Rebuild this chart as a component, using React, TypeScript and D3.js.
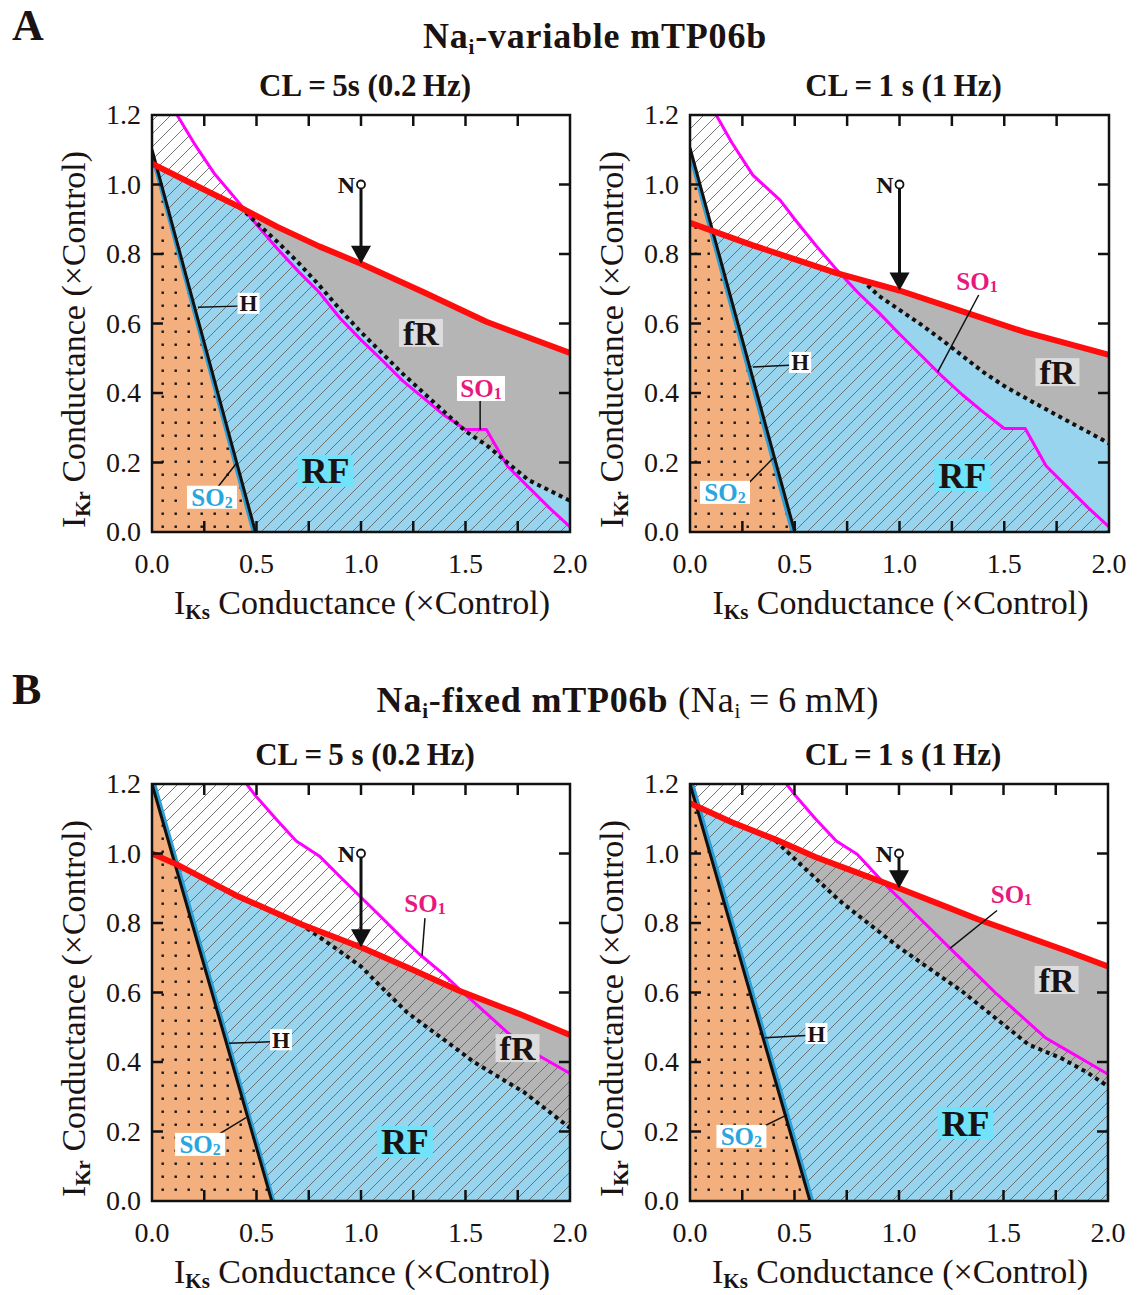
import React from 'react';
import * as d3 from 'd3';

type Pt = [number, number];

// ---- axis ticks ----
const xTickLabels = [0, 0.5, 1.0, 1.5, 2.0];
const yTickLabels = [0, 0.2, 0.4, 0.6, 0.8, 1.0, 1.2];
const xMinorTicks = [0.25, 0.5, 0.75, 1.0, 1.25, 1.5, 1.75];
const yMinorTicks = [0.2, 0.4, 0.6, 0.8, 1.0];

// ---- A, CL = 5 s ----
const aLeftRed: Pt[] = [[0, 1.06], [0.2, 1.0], [0.42, 0.935], [0.6, 0.878], [0.8, 0.822], [1.0, 0.772], [1.3, 0.69], [1.6, 0.605], [2.0, 0.515]];
const aLeftH: Pt[] = [[0, 1.1], [0.495, 0]];
const aLeftSO2: Pt[] = [[0, 1.085], [0.485, 0]];
const aLeftSO1: Pt[] = [[0.12, 1.2], [0.2, 1.12], [0.3, 1.03], [0.42, 0.945], [0.5, 0.885], [0.6, 0.815], [0.7, 0.75], [0.8, 0.69], [0.9, 0.615], [1.0, 0.553], [1.1, 0.495], [1.2, 0.435], [1.3, 0.385], [1.4, 0.335], [1.5, 0.295], [1.6, 0.295], [1.7, 0.19], [1.8, 0.13], [1.9, 0.07], [2.0, 0.015]];
const aLeftFR: Pt[] = [[0.42, 0.935], [0.5, 0.89], [0.6, 0.835], [0.7, 0.775], [0.8, 0.71], [0.9, 0.64], [1.0, 0.575], [1.1, 0.515], [1.2, 0.455], [1.3, 0.4], [1.4, 0.345], [1.5, 0.29], [1.6, 0.25], [1.7, 0.2], [1.8, 0.15], [1.9, 0.12], [2.0, 0.09]];

// ---- A, CL = 1 s ----
const aRightRed: Pt[] = [[0, 0.89], [0.3, 0.825], [0.7, 0.745], [1.0, 0.695], [1.3, 0.635], [1.6, 0.575], [2.0, 0.51]];
const aRightH: Pt[] = [[0, 1.105], [0.5, 0]];
const aRightSO2: Pt[] = [[0, 1.085], [0.488, 0]];
const aRightSO1: Pt[] = [[0.125, 1.2], [0.2, 1.12], [0.3, 1.027], [0.43, 0.955], [0.5, 0.9], [0.6, 0.825], [0.7, 0.755], [0.8, 0.69], [0.9, 0.632], [1.0, 0.57], [1.1, 0.51], [1.2, 0.45], [1.3, 0.395], [1.4, 0.345], [1.5, 0.298], [1.6, 0.298], [1.7, 0.19], [1.8, 0.13], [1.9, 0.07], [2.0, 0.015]];
const aRightFR: Pt[] = [[0.82, 0.726], [0.9, 0.68], [1.0, 0.639], [1.1, 0.598], [1.2, 0.554], [1.3, 0.507], [1.4, 0.46], [1.5, 0.42], [1.6, 0.386], [1.7, 0.353], [1.8, 0.32], [1.9, 0.288], [2.0, 0.255]];

// ---- B, CL = 5 s ----
const bLeftRed: Pt[] = [[0, 1.0], [0.12, 0.968], [0.4, 0.88], [0.72, 0.795], [1.0, 0.73], [1.25, 0.665], [1.47, 0.605], [1.75, 0.54], [2.0, 0.478]];
const bLeftH: Pt[] = [[0, 1.2], [0.573, 0]];
const bLeftSO2: Pt[] = [[0.012, 1.2], [0.582, 0]];
const bLeftSO1: Pt[] = [[0.453, 1.2], [0.49, 1.17], [0.6, 1.095], [0.69, 1.036], [0.8, 0.993], [0.9, 0.933], [1.0, 0.874], [1.1, 0.815], [1.2, 0.755], [1.28, 0.71], [1.4, 0.65], [1.47, 0.61], [1.6, 0.54], [1.7, 0.485], [1.8, 0.44], [1.86, 0.415], [2.0, 0.367]];
const bLeftFR: Pt[] = [[0.71, 0.798], [0.8, 0.76], [0.9, 0.718], [1.0, 0.675], [1.1, 0.614], [1.22, 0.543], [1.3, 0.507], [1.4, 0.463], [1.54, 0.4], [1.65, 0.36], [1.78, 0.313], [1.9, 0.257], [2.0, 0.21]];

// ---- B, CL = 1 s ----
const bRightRed: Pt[] = [[0, 1.145], [0.2, 1.09], [0.41, 1.04], [0.6, 0.99], [0.8, 0.945], [1.0, 0.9], [1.2, 0.853], [1.38, 0.81], [1.6, 0.763], [1.8, 0.72], [2.0, 0.675]];
const bRightH: Pt[] = [[0, 1.2], [0.574, 0]];
const bRightSO2: Pt[] = [[0.012, 1.2], [0.586, 0]];
const bRightSO1: Pt[] = [[0.462, 1.2], [0.5, 1.17], [0.6, 1.1], [0.7, 1.036], [0.8, 0.998], [0.94, 0.907], [1.0, 0.872], [1.1, 0.813], [1.24, 0.73], [1.35, 0.665], [1.46, 0.6], [1.6, 0.524], [1.7, 0.47], [1.8, 0.435], [1.9, 0.4], [2.0, 0.365]];
const bRightFR: Pt[] = [[0.41, 1.037], [0.5, 0.985], [0.6, 0.929], [0.716, 0.864], [0.8, 0.824], [0.9, 0.777], [1.0, 0.73], [1.1, 0.688], [1.2, 0.646], [1.3, 0.604], [1.4, 0.556], [1.5, 0.508], [1.62, 0.45], [1.7, 0.43], [1.78, 0.41], [1.9, 0.37], [2.0, 0.33]];

const C = {
  orange: '#f3b07e',
  blue: '#98d4ee',
  grey: '#b5b5b5',
  red: '#ff0d0d',
  magenta: '#ff00ff',
  so1Text: '#e8187e',
  so2Text: '#2aa6de',
  so2Line: '#2b9fd8',
  rfBox: '#70e2fa',
  frBox: '#dddddd',
  ink: '#1a1311',
};

interface Lbl { at: Pt; line?: [Pt, Pt] }
interface PanelCfg {
  id: string;
  left: number; right: number; top: number; bottom: number;
  title: string;
  red: Pt[]; h: Pt[]; so2: Pt[]; so1: Pt[]; fr: Pt[];
  n: Pt; fRPos: Pt; rfPos: Pt; so1Lbl: Lbl; hLbl: Lbl; so2Lbl: Lbl; so1Box: boolean;
}

const panels: PanelCfg[] = [
  {
    id: 'aL', left: 152, right: 570, top: 115, bottom: 532, title: 'CL\u2009=\u20095s (0.2\u2009Hz)',
    red: aLeftRed, h: aLeftH, so2: aLeftSO2, so1: aLeftSO1, fr: aLeftFR,
    n: [1, 1], fRPos: [1.287, 0.573], rfPos: [0.83, 0.176],
    so1Lbl: { at: [1.574, 0.413], line: [[1.57, 0.38], [1.57, 0.294]] },
    hLbl: { at: [0.462, 0.658], line: [[0.22, 0.647], [0.411, 0.65]] },
    so2Lbl: { at: [0.287, 0.1], line: [[0.316, 0.13], [0.407, 0.2]] }, so1Box: true,
  },
  {
    id: 'aR', left: 690, right: 1109, top: 115, bottom: 532, title: 'CL\u2009=\u20091 s (1\u2009Hz)',
    red: aRightRed, h: aRightH, so2: aRightSO2, so1: aRightSO1, fr: aRightFR,
    n: [1, 1], fRPos: [1.754, 0.46], rfPos: [1.3, 0.164],
    so1Lbl: { at: [1.37, 0.72], line: [[1.378, 0.682], [1.182, 0.46]] },
    hLbl: { at: [0.526, 0.488], line: [[0.3, 0.475], [0.474, 0.48]] },
    so2Lbl: { at: [0.167, 0.114], line: [[0.263, 0.13], [0.397, 0.213]] }, so1Box: false,
  },
  {
    id: 'bL', left: 152, right: 570, top: 784, bottom: 1201, title: 'CL\u2009=\u20095 s (0.2\u2009Hz)',
    red: bLeftRed, h: bLeftH, so2: bLeftSO2, so1: bLeftSO1, fr: bLeftFR,
    n: [1, 1], fRPos: [1.749, 0.44], rfPos: [1.21, 0.17],
    so1Lbl: { at: [1.306, 0.857], line: [[1.306, 0.814], [1.292, 0.705]] },
    hLbl: { at: [0.617, 0.464], line: [[0.368, 0.454], [0.565, 0.458]] },
    so2Lbl: { at: [0.23, 0.163], line: [[0.287, 0.18], [0.45, 0.24]] }, so1Box: false,
  },
  {
    id: 'bR', left: 690, right: 1108, top: 784, bottom: 1201, title: 'CL\u2009=\u20091 s (1\u2009Hz)',
    red: bRightRed, h: bRightH, so2: bRightSO2, so1: bRightSO1, fr: bRightFR,
    n: [1, 1], fRPos: [1.754, 0.636], rfPos: [1.318, 0.224],
    so1Lbl: { at: [1.538, 0.882], line: [[1.469, 0.836], [1.244, 0.727]] },
    hLbl: { at: [0.605, 0.482], line: [[0.359, 0.47], [0.555, 0.476]] },
    so2Lbl: { at: [0.246, 0.186], line: [[0.335, 0.21], [0.464, 0.248]] }, so1Box: false,
  },
];

const SERIF = '"Liberation Serif", "Times New Roman", serif';
const fmt = d3.format('.1f');

function Panel({ cfg }: { cfg: PanelCfg }) {
  const xs = d3.scaleLinear().domain([0, 2]).range([cfg.left, cfg.right]);
  const ys = d3.scaleLinear().domain([0, 1.2]).range([cfg.bottom, cfg.top]);
  const line = d3.line<Pt>().x(d => xs(d[0])).y(d => ys(d[1]));
  const poly = (pts: Pt[]) => (line(pts) || '') + 'Z';
  const clipId = `clip-${cfg.id}`;

  const blueArea: Pt[] = [...cfg.red, [2, 0], [0, 0]];
  const start = cfg.fr[0][0];
  const greyArea: Pt[] = [...cfg.fr, ...cfg.red.filter(p => p[0] > start).reverse()];
  const hatchArea: Pt[] = [[0, 1.2], ...cfg.so1, [2, 0], [0, 0]];
  const orangeArea: Pt[] = [[0, 0], [0, cfg.so2[0][1]], ...cfg.so2];

  const w = cfg.right - cfg.left;
  const h = cfg.bottom - cfg.top;
  const tick = 11;
  const midX = (cfg.left + cfg.right) / 2;
  const midY = (cfg.top + cfg.bottom) / 2;

  // N arrow
  const nx = xs(cfg.n[0]);
  const ny = ys(cfg.n[1]);
  const redAt = d3.scaleLinear().domain(cfg.red.map(p => p[0])).range(cfg.red.map(p => p[1]));
  const tipY = ys(redAt(cfg.n[0]));
  const headH = 18;
  const headW = 10;

  const box = (p: Pt, bw: number, bh: number, fill: string) => (
    <rect x={xs(p[0]) - bw / 2} y={ys(p[1]) - bh / 2} width={bw} height={bh} fill={fill} />
  );
  const leader = (l?: [Pt, Pt]) =>
    l ? <line x1={xs(l[0][0])} y1={ys(l[0][1])} x2={xs(l[1][0])} y2={ys(l[1][1])} stroke="#111" strokeWidth={1.5} /> : null;

  return (
    <g>
      <defs>
        <clipPath id={clipId}>
          <rect x={cfg.left} y={cfg.top} width={w} height={h} />
        </clipPath>
      </defs>
      <text x={midX + 4} y={cfg.top - 19} textAnchor="middle" fontFamily={SERIF} fontWeight="bold" fontSize={31} fill={C.ink}>
        {cfg.title}
      </text>
      <g clipPath={`url(#${clipId})`}>
        <rect x={cfg.left} y={cfg.top} width={w} height={h} fill="#fff" />
        <path d={poly(blueArea)} fill={C.blue} />
        <path d={poly(greyArea)} fill={C.grey} />
        <path d={poly(hatchArea)} fill="url(#hatch)" />
        <path d={poly(orangeArea)} fill={C.orange} />
        <path d={poly(orangeArea)} fill="url(#dots)" />
        <path d={line(cfg.so2) || ''} fill="none" stroke={C.so2Line} strokeWidth={3.5} />
        <path d={line(cfg.h) || ''} fill="none" stroke="#111" strokeWidth={3} />
        <path d={line(cfg.so1) || ''} fill="none" stroke={C.magenta} strokeWidth={3} strokeLinejoin="round" />
        <path d={line(cfg.fr) || ''} fill="none" stroke="#111" strokeWidth={4} strokeDasharray="4 4" />
        <path d={line(cfg.red) || ''} fill="none" stroke={C.red} strokeWidth={6} strokeLinejoin="round" />
      </g>
      {/* frame + ticks */}
      <rect x={cfg.left} y={cfg.top} width={w} height={h} fill="none" stroke="#111" strokeWidth={2.5} />
      {xMinorTicks.map(t => (
        <g key={'xt' + t}>
          <line x1={xs(t)} x2={xs(t)} y1={cfg.bottom} y2={cfg.bottom - tick} stroke="#111" strokeWidth={2.5} />
          <line x1={xs(t)} x2={xs(t)} y1={cfg.top} y2={cfg.top + tick} stroke="#111" strokeWidth={2.5} />
        </g>
      ))}
      {yMinorTicks.map(t => (
        <g key={'yt' + t}>
          <line x1={cfg.left} x2={cfg.left + tick} y1={ys(t)} y2={ys(t)} stroke="#111" strokeWidth={2.5} />
          <line x1={cfg.right} x2={cfg.right - tick} y1={ys(t)} y2={ys(t)} stroke="#111" strokeWidth={2.5} />
        </g>
      ))}
      {xTickLabels.map(t => (
        <text key={'xl' + t} x={xs(t)} y={cfg.bottom + 41} textAnchor="middle" fontFamily={SERIF} fontSize={28} fill={C.ink}>
          {fmt(t)}
        </text>
      ))}
      {yTickLabels.map(t => (
        <text key={'yl' + t} x={cfg.left - 11} y={ys(t) + 9} textAnchor="end" fontFamily={SERIF} fontSize={28} fill={C.ink}>
          {fmt(t)}
        </text>
      ))}
      {/* axis titles */}
      <text x={midX + 1} y={cfg.bottom + 82} textAnchor="middle" fontFamily={SERIF} fontSize={34} fill={C.ink}>
        I<tspan fontWeight="bold" fontSize={21} dy={5}>Ks</tspan>
        <tspan dy={-5}> Conductance (×Control)</tspan>
      </text>
      <text
        transform={`translate(${cfg.left - 67},${midY + 16}) rotate(-90)`}
        textAnchor="middle" fontFamily={SERIF} fontSize={34} fill={C.ink}
      >
        I<tspan fontWeight="bold" fontSize={21} dy={5}>Kr</tspan>
        <tspan dy={-5}> Conductance (×Control)</tspan>
      </text>
      {/* N arrow */}
      <line x1={nx} x2={nx} y1={ny + 4} y2={tipY - headH + 2} stroke="#111" strokeWidth={3} />
      <path d={`M${nx - headW},${tipY - headH} L${nx + headW},${tipY - headH} L${nx},${tipY} Z`} fill="#111" />
      <circle cx={nx} cy={ny} r={4} fill="#fff" stroke="#111" strokeWidth={1.8} />
      <text x={nx - 6} y={ny + 8} textAnchor="end" fontFamily={SERIF} fontWeight="bold" fontSize={24} fill={C.ink}>N</text>
      {/* leaders */}
      {leader(cfg.so1Lbl.line)}
      {leader(cfg.hLbl.line)}
      {leader(cfg.so2Lbl.line)}
      {/* labels */}
      {box(cfg.fRPos, 44, 28, C.frBox)}
      <text x={xs(cfg.fRPos[0])} y={ys(cfg.fRPos[1]) + 12} textAnchor="middle" fontFamily={SERIF} fontWeight="bold" fontSize={34} fill={C.ink}>fR</text>
      {box(cfg.rfPos, 56, 32, C.rfBox)}
      <text x={xs(cfg.rfPos[0])} y={ys(cfg.rfPos[1]) + 12.5} textAnchor="middle" fontFamily={SERIF} fontWeight="bold" fontSize={36} fill={C.ink}>RF</text>
      {box(cfg.hLbl.at, 22, 21, '#fff')}
      <text x={xs(cfg.hLbl.at[0])} y={ys(cfg.hLbl.at[1]) + 8} textAnchor="middle" fontFamily={SERIF} fontWeight="bold" fontSize={23} fill={C.ink}>H</text>
      {box(cfg.so2Lbl.at, 50, 23, '#fff')}
      <text x={xs(cfg.so2Lbl.at[0])} y={ys(cfg.so2Lbl.at[1]) + 8.5} textAnchor="middle" fontFamily={SERIF} fontWeight="bold" fontSize={25} fill={C.so2Text}>
        SO<tspan fontSize={16} dy={2}>2</tspan>
      </text>
      {cfg.so1Box ? box(cfg.so1Lbl.at, 48, 25, '#fff') : null}
      <text x={xs(cfg.so1Lbl.at[0])} y={ys(cfg.so1Lbl.at[1]) + 8.5} textAnchor="middle" fontFamily={SERIF} fontWeight="bold" fontSize={25} fill={C.so1Text}>
        SO<tspan fontSize={16} dy={2}>1</tspan>
      </text>
    </g>
  );
}

export default function App() {
  return (
    <svg width={1137} height={1295} viewBox="0 0 1137 1295" style={{ position: 'absolute', left: 0, top: 0, background: '#fff' }}>
      <defs>
        <pattern id="hatch" width={13} height={13} patternUnits="userSpaceOnUse">
          <path d="M-2,2 L2,-2 M0,13 L13,0 M11,15 L15,11" stroke="#666" strokeWidth={0.9} />
        </pattern>
        <pattern id="dots" width={13} height={13} patternUnits="userSpaceOnUse">
          <rect x={5.5} y={5.5} width={2.4} height={2.4} fill="#111" />
        </pattern>
      </defs>
      <rect x={0} y={0} width={1137} height={1295} fill="#fff" />
      <text x={12} y={40} fontFamily={SERIF} fontWeight="bold" fontSize={44} fill={C.ink}>A</text>
      <text x={595} y={48} textAnchor="middle" fontFamily={SERIF} fontWeight="bold" fontSize={36} letterSpacing={0.8} fill={C.ink}>
        Na<tspan fontSize={21} dy={6}>i</tspan><tspan dy={-6}>-variable mTP06b</tspan>
      </text>
      <text x={12} y={704} fontFamily={SERIF} fontWeight="bold" fontSize={44} fill={C.ink}>B</text>
      <text x={628} y={712} textAnchor="middle" fontFamily={SERIF} fontWeight="bold" fontSize={36} letterSpacing={0.8} fill={C.ink}>
        Na<tspan fontSize={21} dy={6}>i</tspan><tspan dy={-6}>-fixed mTP06b </tspan>
        <tspan fontWeight="normal">(Na</tspan><tspan fontWeight="normal" fontSize={21} dy={6}>i</tspan>
        <tspan fontWeight="normal" dy={-6}>{'\u2009=\u20096\u2009mM)'}</tspan>
      </text>
      {panels.map(p => <Panel key={p.id} cfg={p} />)}
    </svg>
  );
}
